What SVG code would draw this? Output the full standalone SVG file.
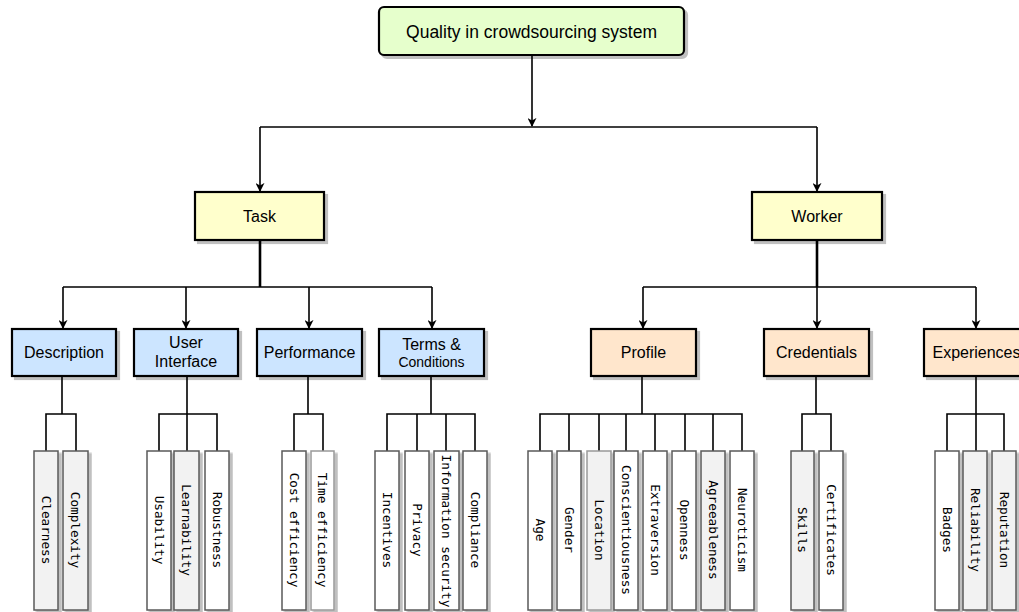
<svg xmlns="http://www.w3.org/2000/svg" width="1019" height="612" viewBox="0 0 1019 612">
  <defs>
    <marker id="arrow" viewBox="0 0 10 10" refX="9" refY="5" markerWidth="9" markerHeight="9" markerUnits="userSpaceOnUse" orient="auto">
      <path d="M0,0 L10,5 L0,10 L3,5 z" fill="#000"/>
    </marker>
    <filter id="shadow" x="-10%" y="-10%" width="130%" height="130%">
      <feOffset in="SourceAlpha" dx="2.5" dy="2.5" result="off"/>
      <feComponentTransfer in="off" result="shade"><feFuncA type="linear" slope="0.25"/></feComponentTransfer>
      <feMerge><feMergeNode in="shade"/><feMergeNode in="SourceGraphic"/></feMerge>
    </filter>
  </defs>
  <style>
    .box { stroke: #000; stroke-width: 2.2; filter: url(#shadow); }
    .root { fill: #e6ffcc; }
    .main { fill: #ffffcc; }
    .task { fill: #cce5ff; }
    .worker { fill: #ffe6cc; }
    .leaf { stroke: #5a5a5a; stroke-width: 1.5; fill: #ffffff; filter: url(#shadow); }
    .leaf.g { fill: #f2f2f2; }
    .leaf.light { stroke: #999; }
    .lbl { font-family: "Liberation Sans", Arial, sans-serif; font-size: 16px; fill: #000; text-anchor: middle; }
    .big { font-size: 17.5px; }
    .small { font-size: 14px; }
    .vt { font-family: "DejaVu Sans Mono", "Liberation Mono", monospace; font-size: 12.7px; fill: #000; text-anchor: middle; dominant-baseline: central; }
    .edge { fill: none; stroke: #000; stroke-width: 1.6; }
    .arr { marker-end: url(#arrow); }
    .thick { stroke-width: 2.6; }
  </style>

  <!-- connectors -->
  <g id="connectors">
    <path class="edge arr" d="M532,55 V126"/>
    <path class="edge" d="M260,127 H817"/>
    <path class="edge arr" d="M260,127 V191"/>
    <path class="edge arr" d="M817,127 V191"/>

    <path class="edge thick" d="M260,240 V287"/>
    <path class="edge" d="M63,287 H432"/>
    <path class="edge arr" d="M63,287 V328"/>
    <path class="edge arr" d="M186,287 V328"/>
    <path class="edge arr" d="M309,287 V328"/>
    <path class="edge arr" d="M432,287 V328"/>

    <path class="edge thick" d="M817,240 V287"/>
    <path class="edge" d="M643,287 H976"/>
    <path class="edge arr" d="M643,287 V328"/>
    <path class="edge arr" d="M817,287 V328"/>
    <path class="edge arr" d="M976,287 V328"/>

    <!-- Description -->
    <path class="edge" d="M62,376 V414 M46,451 V414 H76 V451"/>
    <!-- User Interface -->
    <path class="edge" d="M187,376 V451 M159,451 V414 H217 V451"/>
    <!-- Performance -->
    <path class="edge" d="M308,376 V414 M294,451 V414 H323 V451"/>
    <!-- Terms & Conditions -->
    <path class="edge" d="M431,376 V414 M387,451 V414 H475 V451 M417,414 V451 M446,414 V451"/>
    <!-- Profile -->
    <path class="edge" d="M642,376 V414 M540,451 V414 H742 V451 M569,414 V451 M599,414 V451 M626,414 V451 M655,414 V451 M685,414 V451 M713,414 V451"/>
    <!-- Credentials -->
    <path class="edge" d="M816,376 V414 M802,451 V414 H831 V451"/>
    <!-- Experiences -->
    <path class="edge" d="M976,376 V451 M947,451 V414 H1004 V451"/>
  </g>

  <!-- root -->
  <g id="root">
    <rect class="box root" x="379" y="7" width="305" height="48" rx="5"/>
    <text class="lbl big" x="531.5" y="37.5">Quality in crowdsourcing system</text>
  </g>

  <!-- level 1 -->
  <g id="task">
    <rect class="box main" x="195" y="192" width="129" height="48"/>
    <text class="lbl" x="259.5" y="221.5">Task</text>
  </g>
  <g id="worker">
    <rect class="box main" x="752" y="192" width="130" height="48"/>
    <text class="lbl" x="817" y="221.5">Worker</text>
  </g>

  <!-- level 2: task -->
  <g id="description">
    <rect class="box task" x="12" y="329" width="104" height="47"/>
    <text class="lbl" x="64" y="358">Description</text>
  </g>
  <g id="user-interface">
    <rect class="box task" x="134" y="329" width="104" height="47"/>
    <text class="lbl" x="186" y="348">User</text>
    <text class="lbl" x="186" y="367">Interface</text>
  </g>
  <g id="performance">
    <rect class="box task" x="257" y="329" width="105" height="47"/>
    <text class="lbl" x="309.5" y="358">Performance</text>
  </g>
  <g id="terms">
    <rect class="box task" x="379" y="329" width="105" height="47"/>
    <text class="lbl" x="431.5" y="350">Terms &amp;</text>
    <text class="lbl small" x="431.5" y="367">Conditions</text>
  </g>

  <!-- level 2: worker -->
  <g id="profile">
    <rect class="box worker" x="591" y="329" width="105" height="47"/>
    <text class="lbl" x="643.5" y="358">Profile</text>
  </g>
  <g id="credentials">
    <rect class="box worker" x="764" y="329" width="105" height="47"/>
    <text class="lbl" x="816.5" y="358">Credentials</text>
  </g>
  <g id="experiences">
    <rect class="box worker" x="924" y="329" width="105" height="47"/>
    <text class="lbl" x="976.5" y="358">Experiences</text>
  </g>

  <!-- leaves -->
  <g id="clearness"><rect class="leaf g" x="34" y="451" width="24" height="159"/><text class="vt" transform="translate(46,530) rotate(90)">Clearness</text></g>
  <g id="complexity"><rect class="leaf g" x="63" y="451" width="25" height="159"/><text class="vt" transform="translate(75.5,530) rotate(90)">Complexity</text></g>

  <g id="usability"><rect class="leaf" x="147" y="451" width="24" height="159"/><text class="vt" transform="translate(159,530) rotate(90)">Usability</text></g>
  <g id="learnability"><rect class="leaf g" x="174" y="451" width="25" height="159"/><text class="vt" transform="translate(186.5,530) rotate(90)">Learnability</text></g>
  <g id="robustness"><rect class="leaf" x="205" y="451" width="24" height="159"/><text class="vt" transform="translate(217,530) rotate(90)">Robustness</text></g>

  <g id="cost-efficiency"><rect class="leaf" x="282" y="451" width="24" height="159"/><text class="vt" transform="translate(294,530) rotate(90)">Cost efficiency</text></g>
  <g id="time-efficiency"><rect class="leaf light" x="311" y="451" width="23" height="159"/><text class="vt" transform="translate(322.5,530) rotate(90)">Time efficiency</text></g>

  <g id="incentives"><rect class="leaf" x="375" y="451" width="24" height="159"/><text class="vt" transform="translate(387,530) rotate(90)">Incentives</text></g>
  <g id="privacy"><rect class="leaf" x="405" y="451" width="24" height="159"/><text class="vt" transform="translate(417,530) rotate(90)">Privacy</text></g>
  <g id="information-security"><rect class="leaf" x="434" y="451" width="25" height="159"/><text class="vt" transform="translate(446.5,531) rotate(90)">Information security</text></g>
  <g id="compliance"><rect class="leaf" x="463" y="451" width="24" height="159"/><text class="vt" transform="translate(475,530) rotate(90)">Compliance</text></g>

  <g id="age"><rect class="leaf" x="528" y="451" width="24" height="159"/><text class="vt" transform="translate(540,530) rotate(90)">Age</text></g>
  <g id="gender"><rect class="leaf" x="557" y="451" width="24" height="159"/><text class="vt" transform="translate(569,530) rotate(90)">Gender</text></g>
  <g id="location"><rect class="leaf g light" x="587" y="451" width="24" height="159"/><text class="vt" transform="translate(599,530) rotate(90)">Location</text></g>
  <g id="conscientiousness"><rect class="leaf" x="614" y="451" width="24" height="159"/><text class="vt" transform="translate(626,530) rotate(90)">Conscientiousness</text></g>
  <g id="extraversion"><rect class="leaf" x="643" y="451" width="24" height="159"/><text class="vt" transform="translate(655,530) rotate(90)">Extraversion</text></g>
  <g id="openness"><rect class="leaf" x="672" y="451" width="24" height="159"/><text class="vt" transform="translate(684,530) rotate(90)">Openness</text></g>
  <g id="agreeableness"><rect class="leaf g" x="701" y="451" width="24" height="159"/><text class="vt" transform="translate(713,530) rotate(90)">Agreeableness</text></g>
  <g id="neuroticism"><rect class="leaf" x="730" y="451" width="24" height="159"/><text class="vt" transform="translate(742,530) rotate(90)">Neuroticism</text></g>

  <g id="skills"><rect class="leaf g" x="791" y="451" width="23" height="159"/><text class="vt" transform="translate(802.5,530) rotate(90)">Skills</text></g>
  <g id="certificates"><rect class="leaf" x="819" y="451" width="24" height="159"/><text class="vt" transform="translate(831,530) rotate(90)">Certificates</text></g>

  <g id="badges"><rect class="leaf" x="935" y="451" width="24" height="159"/><text class="vt" transform="translate(947,530) rotate(90)">Badges</text></g>
  <g id="reliability"><rect class="leaf g" x="963" y="451" width="24" height="159"/><text class="vt" transform="translate(975,530) rotate(90)">Reliability</text></g>
  <g id="reputation"><rect class="leaf g" x="992" y="451" width="24" height="159"/><text class="vt" transform="translate(1004,530) rotate(90)">Reputation</text></g>
</svg>
